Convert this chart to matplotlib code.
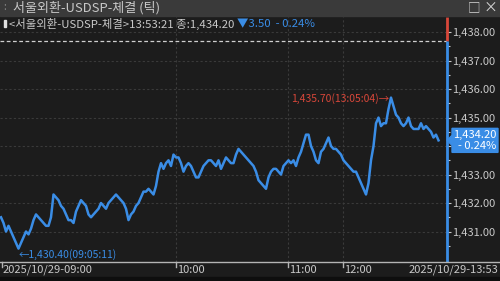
import numpy as np
import matplotlib
matplotlib.use('Agg')
import matplotlib.pyplot as plt
from matplotlib.patches import Polygon, Rectangle

plt.rcParams['font.family'] = ['Noto Sans CJK KR', 'DejaVu Sans']

# tick-by-tick trade prices (sampled evenly along the tick sequence)
prices = [
    1431.5, 1431.3, 1431.0, 1431.2, 1431.0, 1430.8, 1430.6, 1430.4, 1430.6, 1430.8,
    1431.0, 1430.9, 1431.1, 1431.4, 1431.6, 1431.5, 1431.4, 1431.3, 1431.2, 1431.2,
    1431.5, 1432.3, 1432.2, 1432.1, 1431.9, 1431.8, 1431.6, 1431.4, 1431.4, 1431.3,
    1431.7, 1431.9, 1432.1, 1432.0, 1431.9, 1431.6, 1431.5, 1431.6, 1431.7, 1431.8,
    1432.0, 1431.9, 1431.8, 1432.0, 1432.1, 1432.2, 1432.3, 1432.2, 1432.1, 1432.0,
    1431.8, 1431.4, 1431.6, 1431.7, 1431.9, 1432.0, 1432.2, 1432.4, 1432.4, 1432.5,
    1432.4, 1432.3, 1432.6, 1433.1, 1433.4, 1433.2, 1433.4, 1433.5, 1433.3, 1433.7,
    1433.6, 1433.6, 1433.4, 1433.1, 1433.3, 1433.4, 1433.3, 1433.1, 1432.9, 1432.9,
    1433.1, 1433.3, 1433.4, 1433.5, 1433.5, 1433.4, 1433.3, 1433.5, 1433.2, 1433.4,
    1433.6, 1433.5, 1433.4, 1433.4, 1433.7, 1433.9, 1433.8, 1433.7, 1433.6, 1433.5,
    1433.4, 1433.3, 1433.1, 1432.8, 1432.7, 1432.6, 1432.5, 1432.9, 1433.1, 1433.2,
    1433.2, 1433.1, 1433.0, 1433.3, 1433.4, 1433.5, 1433.4, 1433.5, 1433.3, 1433.6,
    1433.8, 1434.1, 1434.4, 1434.4, 1434.0, 1433.8, 1433.5, 1433.4, 1433.8, 1433.9,
    1434.1, 1434.3, 1434.0, 1433.9, 1433.9, 1433.8, 1433.7, 1433.5, 1433.4, 1433.3,
    1433.2, 1433.1, 1433.1, 1432.9, 1432.7, 1432.5, 1432.3, 1432.7, 1433.5, 1434.0,
    1434.8, 1435.0, 1434.7, 1434.8, 1434.8, 1435.3, 1435.7, 1435.4, 1435.1, 1435.0,
    1434.8, 1434.7, 1434.8, 1435.0, 1434.7, 1434.6, 1434.6, 1434.6, 1434.8, 1434.6,
    1434.7, 1434.6, 1434.5, 1434.3, 1434.4, 1434.2,
]
prev_close = 1437.70
last_price = 1434.20
last_time = '13:53:21'
change = -3.50
change_pct = -0.24
low_label = '1,430.40(09:05:11)'
high_label = '1,435.70(13:05:04)'
title = '서울외환-USDSP-체결 (틱)'
y_ticks = [1431, 1432, 1433, 1434, 1435, 1436, 1437, 1438]
x_tick_idx = [0, 70, 115, 137]
x_tick_labels = ['2025/10/29-09:00', '10:00', '11:00', '12:00']
end_label = '2025/10/29-13:53'

bg = '#1c1c1c'
bar_bg = '#3a3a3a'
blue = '#3a8de6'
red = '#d8473a'
txt = '#c8c8c8'
grid_c = '#3a3a3a'

W, H = 500, 281
fig = plt.figure(figsize=(W / 100, H / 100), dpi=100, facecolor=bg)
ax = fig.add_axes([0, (H - 262) / H, 447 / W, 245 / H], facecolor=bg)
x = np.arange(len(prices))
ymin, ymax = 1429.93, 1438.53
xmax = 178.4
ax.set_xlim(-0.4, xmax)
ax.set_ylim(ymin, ymax)

for v in y_ticks:
    ax.axhline(v, color=grid_c, lw=0.8, ls=(0, (2, 2)), zorder=0)
for i in x_tick_idx[1:]:
    ax.axvline(i, color=grid_c, lw=0.8, ls=(0, (2, 2)), zorder=0)
ax.axhline(prev_close, color='#cfcfcf', lw=0.9, ls=(0, (3, 2)), zorder=1)

ax.plot(x, prices, color=blue, lw=1.8, zorder=3)

imin, imax = int(np.argmin(prices)), int(np.argmax(prices))
ax.annotate(high_label + '→', xy=(imax, prices[imax]), xytext=(-1, -1),
            textcoords='offset points', ha='right', va='center',
            color=red, fontsize=7.5)
ax.annotate('←' + low_label, xy=(imin, prices[imin]), xytext=(0, -4),
            textcoords='offset points', ha='left', va='center',
            color=blue, fontsize=7.5)

# right price scale (the 1,434 label sits under the current price tag)
ax.yaxis.tick_right()
ax.set_yticks(y_ticks)
ax.set_yticklabels([f'{v:,.2f}' if v != 1434 else '' for v in y_ticks])
ax.set_yticks(np.arange(1430.5, 1438.5, 0.5), minor=True)
ax.tick_params(axis='y', which='major', colors=txt, length=3, width=0.8,
               pad=1, labelsize=8, labelcolor=txt)
ax.tick_params(axis='y', which='minor', colors=txt, length=2, width=0.8)
ax.set_xticks([])
for s in ax.spines.values():
    s.set_visible(False)
ax.vlines(xmax, prev_close, ymax, color=red, lw=2, clip_on=False, zorder=5)
ax.vlines(xmax, ymin, prev_close, color=blue, lw=2, clip_on=False, zorder=5)

# overlay in pixel units for the window chrome
ov = fig.add_axes([0, 0, 1, 1], zorder=10)
ov.set_xlim(0, W)
ov.set_ylim(H, 0)
ov.axis('off')
ov.patch.set_alpha(0)


def to_px(xd, yd):
    dx, dy = ax.transData.transform((xd, yd))
    return dx, H - dy


# title bar
ov.add_patch(Rectangle((0, 0), W, 16, color=bar_bg))
ov.text(3, 7.5, ':', color='#8a8a8a', fontsize=7, ha='left', va='center')
ov.text(13, 8, title, color=txt, fontsize=9.4, ha='left', va='center')
ov.text(474, 8, '□', color='#d8d8d8', fontsize=9, ha='center', va='center')
ov.text(490, 8, '×', color='#d8d8d8', fontsize=10, ha='center', va='center')

# info line
ov.add_patch(Rectangle((4, 20), 2, 7, color='#e0e0e0'))
info1 = ov.text(9, 24, f'<서울외환-USDSP-체결>{last_time} 종:{last_price:,.2f} ',
                color=txt, fontsize=8.2, ha='left', va='center')
fig.canvas.draw()
bb = info1.get_window_extent()
ov.text(bb.x1, 24, f'▼{abs(change):.2f}  - {abs(change_pct):.2f}%',
        color=blue, fontsize=8.2, ha='left', va='center')

# current price tag
_, py = to_px(0, last_price)
ov.add_patch(Polygon([(447, py), (452, py - 5), (452, py - 12), (498, py - 12),
                      (498, py + 12), (452, py + 12), (452, py + 5)],
                     closed=True, color=blue, zorder=6))
ov.text(496, py - 5.5, f'{last_price:,.2f}', color='white', fontsize=8,
        ha='right', va='center', zorder=7)
ov.text(496, py + 6, f'- {abs(change_pct):.2f}%', color='white', fontsize=8,
        ha='right', va='center', zorder=7)

# time axis
ov.plot([0, W], [262, 262], color='#b4b4b4', lw=1)
for i, lab in zip(x_tick_idx, x_tick_labels):
    px, _ = to_px(i, ymin)
    px = max(px, 2)
    ov.plot([px, px], [262, 267], color='#b4b4b4', lw=1)
    ov.text(px + 1, 270, lab, color=txt, fontsize=8, ha='left', va='center')
ov.text(498, 270, end_label, color=txt, fontsize=8, ha='right', va='center')
ov.add_patch(Rectangle((0, 277), W, 4, color='#0e0e0e'))

fig.savefig('out.png', dpi=100, facecolor=bg)
